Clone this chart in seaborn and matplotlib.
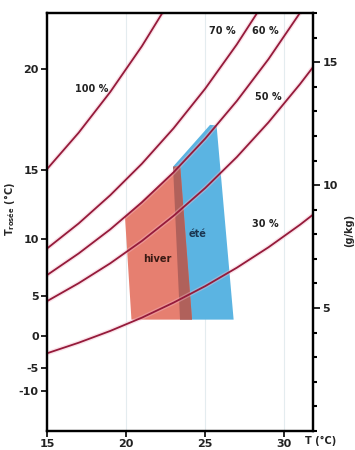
import matplotlib
matplotlib.use("Agg")
import matplotlib.pyplot as plt
from matplotlib.patches import Polygon
from matplotlib.ticker import MultipleLocator, FixedLocator
import seaborn as sns
import pandas as pd

# ---- data (x: dry-bulb T in °C, y: humidity ratio in g/kg)
T_GRID = [15, 17, 19, 21, 23, 25, 27, 29, 31, 32]
RH_LABELS = ["100 %", "70 %", "60 %", "50 %", "30 %"]
W_100 = [10.65, 12.13, 13.79, 15.65, 17.74]
W_70 = [7.42, 8.44, 9.59, 10.87, 12.31, 13.92, 15.72, 17.71]
W_60 = [6.34, 7.22, 8.20, 9.30, 10.52, 11.89, 13.42, 15.12, 17.01, 18.03]
W_50 = [5.28, 6.01, 6.82, 7.73, 8.75, 9.88, 11.14, 12.55, 14.11, 14.95]
W_30 = [3.16, 3.59, 4.07, 4.61, 5.22, 5.89, 6.64, 7.47, 8.39, 8.89]
CURVES = [W_100, W_70, W_60, W_50, W_30]

# label positions (T, w)
RH_LABEL_T = [17.8, 26.1, 28.8, 29.0, 28.8]
RH_LABEL_W = [13.9, 16.25, 16.25, 13.6, 8.4]

# comfort zones (T, w)
HIVER_T = [20.34, 19.93, 23.42, 24.17]
HIVER_W = [4.53, 8.72, 10.79, 4.53]
ETE_T = [23.41, 22.97, 25.31, 25.72, 26.80]
ETE_W = [4.53, 10.75, 12.45, 12.43, 4.53]

# left axis: dew point tick labels and their humidity-ratio positions
DEW_LABELS = ["-10", "-5", "0", "5", "10", "15", "20"]
DEW_POS_W = [1.64, 2.57, 3.87, 5.49, 7.79, 10.63, 14.72]

X_TICKS = [15, 20, 25, 30]
RIGHT_MAJOR = [5, 10, 15]

# ---- build long-form table
rows = []
for lab, ws in zip(RH_LABELS, CURVES):
    for t, w in zip(T_GRID, ws):
        rows.append({"rh": lab, "T": t, "w": w})
df = pd.DataFrame(rows)

sns.set_theme(style="white")
plt.rcParams["font.family"] = ["DejaVu Sans"]

fig = plt.figure(figsize=(3.55, 4.5), dpi=100)
ax = fig.add_axes([47 / 355, 1 - 431 / 450, 265.7 / 355, 418 / 450])

LINE = "#951a3a"
ZONE_RED = "#e67f70"
ZONE_BLUE = "#5bb4e2"
OVERLAP = "#b0615b"

# faint vertical grid lines
for xt in X_TICKS[1:]:
    ax.axvline(xt, color="#e4ecef", lw=0.8, zorder=0)

# zones
ax.add_patch(Polygon(list(zip(ETE_T, ETE_W)), closed=True, facecolor=ZONE_BLUE,
                     edgecolor="none", zorder=1))
ax.add_patch(Polygon(list(zip(HIVER_T, HIVER_W)), closed=True, facecolor=ZONE_RED,
                     edgecolor="none", zorder=1.1))
overlap = [(ETE_T[0], ETE_W[0]), (ETE_T[1], ETE_W[1]), (HIVER_T[2], HIVER_W[2]),
           (HIVER_T[3], HIVER_W[3])]
ax.add_patch(Polygon(overlap, closed=True, facecolor=OVERLAP, edgecolor="none", zorder=1.2))

# halo + curves
sns.lineplot(data=df, x="T", y="w", units="rh", estimator=None, sort=False,
             color="#f4b8c8", lw=3.2, alpha=0.4, ax=ax, zorder=2, legend=False)
sns.lineplot(data=df, x="T", y="w", units="rh", estimator=None, sort=False,
             color=LINE, lw=1.3, ax=ax, zorder=3, legend=False)

for lab, t, w in zip(RH_LABELS, RH_LABEL_T, RH_LABEL_W):
    ax.text(t, w, lab, fontsize=7, fontweight="bold", color="#222222",
            ha="center", va="center", zorder=4)
ax.text(22.0, 7.0, "hiver", fontsize=7, fontweight="bold", color="#3a1a14",
        ha="center", va="center", zorder=4)
ax.text(24.5, 8.0, "été", fontsize=7, fontweight="bold", color="#1b3550",
        ha="center", va="center", zorder=4)

ax.set_xlim(15, 31.8)
ax.set_ylim(0, 17)
ax.set_xticks(X_TICKS)
ax.set_xticklabels([str(v) for v in X_TICKS], fontsize=8, fontweight="bold")
ax.yaxis.set_major_locator(FixedLocator(DEW_POS_W))
ax.set_yticklabels(DEW_LABELS, fontsize=8, fontweight="bold")
ax.set_xlabel("")
ax.set_ylabel("T$_{\\mathregular{rosée}}$ (°C)", fontsize=7, fontweight="bold")
ax.yaxis.set_label_coords(-0.112, 0.53)
ax.tick_params(axis="both", direction="out", length=4, width=1.2, color="black",
               pad=2, bottom=True, left=True, labelcolor="#222222")

for sp in ax.spines.values():
    sp.set_color("black")
    sp.set_linewidth(1.6)

ax2 = ax.twinx()
ax2.set_ylim(0, 17)
ax2.yaxis.set_major_locator(FixedLocator(RIGHT_MAJOR))
ax2.yaxis.set_minor_locator(MultipleLocator(1))
ax2.set_yticklabels([str(v) for v in RIGHT_MAJOR], fontsize=8, fontweight="bold")
ax2.tick_params(axis="y", which="major", direction="out", length=5, width=1.2,
                color="black", pad=2, right=True, labelcolor="#222222")
ax2.tick_params(axis="y", which="minor", direction="out", length=3, width=1.5,
                color="black", right=True)
ax2.set_ylabel("(g/kg)", fontsize=7, fontweight="bold", rotation=90)
ax2.yaxis.set_label_coords(1.12, 0.48)
for sp in ax2.spines.values():
    sp.set_color("black")
    sp.set_linewidth(1.6)
ax2.grid(False)

fig.text(321 / 355, 1 - 441 / 450, "T (°C)", fontsize=7, fontweight="bold",
         color="#222222", ha="center", va="center")

fig.savefig("out.png", dpi=100)
